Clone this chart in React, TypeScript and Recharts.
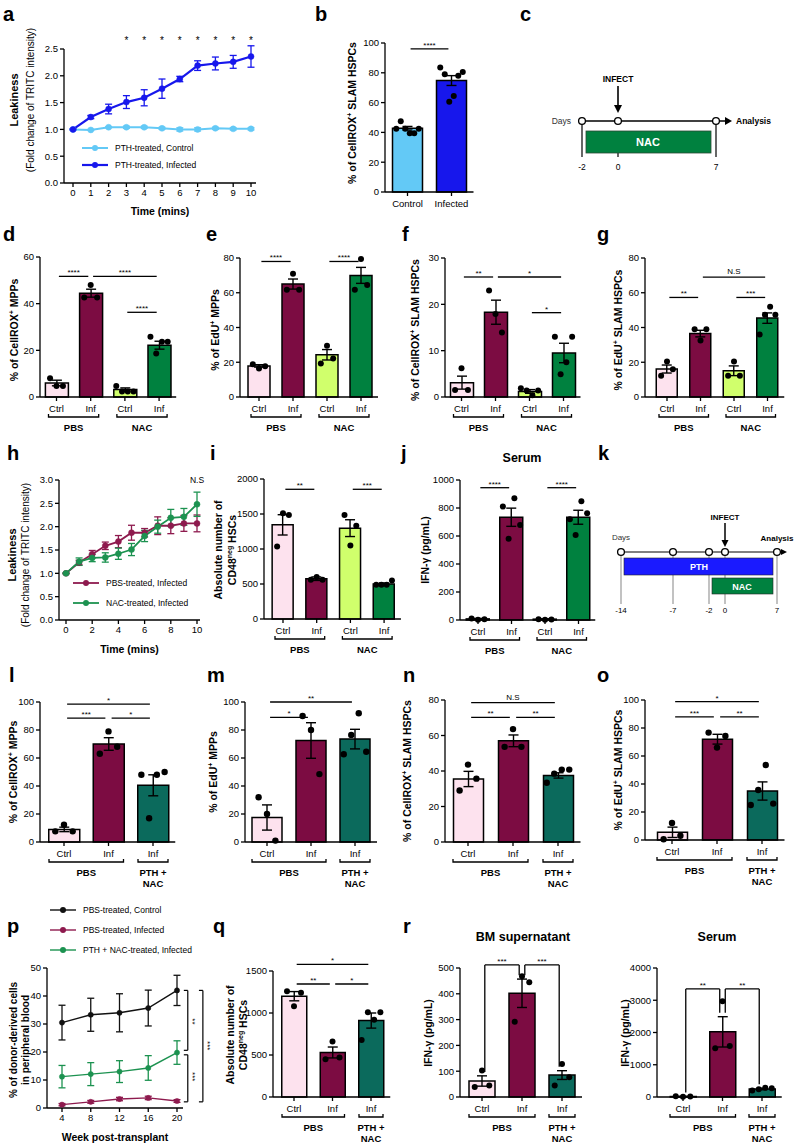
import React from 'react';
import {
  ComposedChart, Bar, Cell, ErrorBar, Scatter, Line, XAxis, YAxis,
  ReferenceLine, ReferenceDot, Legend,
} from 'recharts';

const FONT = 'Arial, "Liberation Sans", Helvetica, sans-serif';
const PINK = '#fde2ee';
const MAROON = '#7c0c42';
const LIME = '#d0ff6c';
const GREEN = '#00813f';
const TEAL = '#0b6a5c';
const SKY = '#63c9f6';
const BLUE = '#1717ec';
const PLUM = '#8e1a4e';
const LEAF = '#1c9250';
const AX = { stroke: '#000', strokeWidth: 1.3 };

// ---------- a : leakiness, PTH treated
const A_TIME = [0, 1, 2, 3, 4, 5, 6, 7, 8, 9, 10];
const A_CTRL = [1.0, 0.99, 1.04, 1.04, 1.04, 1.02, 1.0, 1.0, 1.02, 1.01, 1.01];
const A_CTRL_SEM = [0.01, 0.01, 0.01, 0.02, 0.02, 0.02, 0.03, 0.03, 0.02, 0.02, 0.02];
const A_INF = [1.0, 1.23, 1.38, 1.51, 1.59, 1.76, 1.94, 2.19, 2.23, 2.26, 2.36];
const A_INF_SEM = [0.01, 0.03, 0.09, 0.12, 0.15, 0.18, 0.05, 0.09, 0.12, 0.12, 0.2];
const A_STARS = [3, 4, 5, 6, 7, 8, 9, 10];

// ---------- b
const B_CATS = ['Control', 'Infected'];
const B_MEAN = [42.8, 74.8];
const B_SEM = [1.2, 3.3];
const B_DOTS = [[42.5, 47.5, 42.5, 39.5, 39.5, 42.5], [83.5, 79, 60.5, 64.5, 78, 80.5]];
const B_SIG = [{ a: 0, b: 1, y: 96, t: '****' }];

// ---------- shared categories
const CAT4 = ['Ctrl', 'Inf', 'Ctrl', 'Inf'];
const CAT3 = ['Ctrl', 'Inf', 'Inf'];
const GRP_NAC = [{ from: 0, to: 1, label: ['PBS'] }, { from: 2, to: 3, label: ['NAC'] }];
const GRP_PTH = [{ from: 0, to: 1, label: ['PBS'] }, { from: 2, to: 2, label: ['PTH +', 'NAC'] }];

// ---------- d
const D_MEAN = [6, 44.5, 3.2, 22.2];
const D_SEM = [1.2, 1.7, 0.7, 1.7];
const D_DOTS = [[8, 4.7, 4.7], [42.6, 48, 42.6], [4.7, 2.4, 2.4, 2.4], [25.8, 18.6, 23.7, 23.7]];
const D_SIG = [{ a: 0, b: 1, y: 51.7, t: '****' }, { a: 1, b: 3, y: 51.7, t: '****' }, { a: 2, b: 3, y: 36.3, t: '****' }];

// ---------- e
const E_MEAN = [17.9, 65, 24.3, 70];
const E_SEM = [0.7, 2.9, 3, 4.6];
const E_DOTS = [[18.9, 16.4, 17.7], [61.7, 70.9, 61.7], [19.3, 29.5, 22.2], [61.7, 79.4, 64.5]];
const E_SIG = [{ a: 0, b: 1, y: 78, t: '****' }, { a: 2, b: 3, y: 78, t: '****' }];

// ---------- f
const F_MEAN = [3.1, 18.3, 1.2, 9.5];
const F_SEM = [1.4, 2.6, 0.4, 2.1];
const F_DOTS = [[1.5, 6.2, 1.5], [23, 17.9, 13.9], [1.9, 1.4, 0.4, 1.4], [13, 4.9, 7.5, 13]];
const F_SIG = [{ a: 0, b: 1, y: 25.9, t: '**' }, { a: 1, b: 3, y: 25.9, t: '*' }, { a: 2, b: 3, y: 18.2, t: '*' }];

// ---------- g
const G_MEAN = [16.1, 36.5, 15.1, 45.4];
const G_SEM = [2.3, 1.9, 2.8, 3];
const G_DOTS = [[12.3, 20.5, 16], [39, 32.5, 39], [12.3, 20.4, 12.3], [36, 47.3, 52, 47.3]];
const G_SIG = [{ a: 0, b: 1, y: 57.3, t: '**' }, { a: 1, b: 3, y: 69, t: 'N.S' }, { a: 2, b: 3, y: 57.3, t: '***' }];

// ---------- h
const H_TIME = [0, 1, 2, 3, 4, 5, 6, 7, 8, 9, 10];
const H_PBS = [1.0, 1.23, 1.41, 1.59, 1.68, 1.87, 1.87, 2.02, 2.02, 2.07, 2.07];
const H_PBS_SEM = [0.01, 0.05, 0.08, 0.08, 0.13, 0.16, 0.09, 0.19, 0.17, 0.17, 0.18];
const H_NAC = [1.0, 1.25, 1.33, 1.34, 1.42, 1.51, 1.8, 2.0, 2.19, 2.21, 2.48];
const H_NAC_SEM = [0.01, 0.08, 0.08, 0.1, 0.12, 0.13, 0.12, 0.14, 0.18, 0.18, 0.26];

// ---------- i
const I_MEAN = [1345, 576, 1298, 500];
const I_SEM = [145, 25, 120, 15];
const I_DOTS = [[1036, 1511, 1487], [560, 600, 560], [1487, 1051, 1331], [490, 490, 490, 550]];
const I_SIG = [{ a: 0, b: 1, y: 1853, t: '**' }, { a: 2, b: 3, y: 1853, t: '***' }];

// ---------- j
const J_MEAN = [8, 734, 6, 734];
const J_SEM = [3, 65, 2, 50];
const J_DOTS = [[10, 2, 5], [810, 580, 869, 679], [6, 1, 4], [720, 608, 848, 762]];
const J_SIG = [{ a: 0, b: 1, y: 945, t: '****' }, { a: 2, b: 3, y: 945, t: '****' }];

// ---------- l
const L_MEAN = [9, 70, 40.5];
const L_SEM = [1.6, 4.5, 7.5];
const L_DOTS = [[7.6, 12.4, 7.6], [63, 79, 68], [48, 17, 48, 50]];
const L_SIG = [{ a: 0, b: 2, y: 98.5, t: '*' }, { a: 0, b: 1, y: 88.5, t: '***' }, { a: 1, b: 2, y: 88.5, t: '*' }];

// ---------- m
const M_MEAN = [17.5, 72.5, 73.5];
const M_SEM = [9, 12.7, 7];
const M_DOTS = [[32, 20, 1], [90, 80, 48.5], [62.7, 76.5, 92, 64.5]];
const M_SIG = [{ a: 0, b: 2, y: 100, t: '**' }, { a: 0, b: 1, y: 89, t: '*' }];

// ---------- n
const N_MEAN = [35.5, 57, 37.5];
const N_SEM = [4.3, 3.3, 1.5];
const N_DOTS = [[29, 43.6, 35.7], [53.6, 63.6, 53.6], [33.4, 38.5, 40.8, 40.8]];
const N_SIG = [{ a: 0, b: 2, y: 78.5, t: 'N.S' }, { a: 0, b: 1, y: 70.2, t: '**' }, { a: 1, b: 2, y: 70.2, t: '**' }];

// ---------- o
const O_MEAN = [5.5, 72, 35];
const O_SEM = [3.7, 3.5, 6.5];
const O_DOTS = [[0.5, 12.2, 3], [76.7, 66, 74.3], [25, 35.7, 53.6, 26]];
const O_SIG = [{ a: 0, b: 2, y: 98.8, t: '*' }, { a: 0, b: 1, y: 88, t: '***' }, { a: 1, b: 2, y: 88, t: '**' }];

// ---------- p
const P_WEEK = [4, 8, 12, 16, 20];
const P_CTRL = [30.5, 33.3, 34, 35.7, 42];
const P_CTRL_SEM = [6.2, 5.9, 6.8, 6.4, 5.4];
const P_PBS = [1.2, 2.2, 3.2, 3.6, 2.5];
const P_PBS_SEM = [0.4, 0.5, 0.6, 0.6, 0.5];
const P_NAC = [11.2, 12.1, 13, 14.3, 19.8];
const P_NAC_SEM = [4, 4.1, 3.9, 4.4, 4.2];

// ---------- q
const Q_MEAN = [1200, 530, 910];
const Q_SEM = [55, 65, 90];
const Q_DOTS = [[1260, 1080, 1240], [450, 660, 470], [680, 1010, 920, 1010]];
const Q_SIG = [{ a: 0, b: 2, y: 1580, t: '*' }, { a: 0, b: 1, y: 1345, t: '**' }, { a: 1, b: 2, y: 1345, t: '*' }];

// ---------- r
const BM_MEAN = [62, 402, 85];
const BM_SEM = [20, 55, 17];
const BM_DOTS = [[39, 103, 45], [292, 468, 445], [45, 128, 77]];
const BM_SIG = [{ a: 0, b: 1, y: 512, t: '***' }, { a: 1, b: 2, y: 512, t: '***' }];
const SE_MEAN = [15, 2020, 250];
const SE_SEM = [5, 470, 25];
const SE_DOTS = [[20, 8, 15], [1510, 2970, 1580], [200, 240, 290, 270]];
const SE_SIG = [{ a: 0, b: 1, y: 3350, t: '**' }, { a: 1, b: 2, y: 3350, t: '**' }];

// ---------- text helpers
function Rich({ s }: { s: string }) {
  const parts = s.split(/\^\{([^}]*)\}/);
  return (
    <>
      {parts.map((p, i) =>
        i % 2 === 1 ? (
          <tspan key={i} dy={-3.5} fontSize={7}>{p}</tspan>
        ) : (
          <tspan key={i} dy={i > 0 ? 3.5 : undefined}>{p}</tspan>
        ),
      )}
    </>
  );
}

type TLine = { s: string; dx: number; bold?: boolean; size?: number };

function VTitle({ x, y, lines }: { x: number; y: number; lines: TLine[] }) {
  return (
    <>
      {lines.map((l, i) => {
        const fs = l.size ?? 10.5;
        return (
          <text
            key={i}
            transform={`translate(${x + l.dx + fs * 0.35},${y}) rotate(-90)`}
            textAnchor="middle"
            fontSize={fs}
            fontWeight={l.bold === false ? 'normal' : 'bold'}
            fill="#000"
          >
            <Rich s={l.s} />
          </text>
        );
      })}
    </>
  );
}

// ---------- bar panel
const PADL = 62, PADR = 16, PADT = 34, PADB = 58, YW = 34;

function BarPanel({ geo, cats, colors, mean, sem, dots, yMax, yTicks, groups = [], sigs = [], bracket = false, title, dotR = 3 }: any) {
  const n = cats.length;
  const x1 = geo.c0 + (n - 1) * geo.sp + geo.sp * 0.5;
  const domain = [(geo.x0 - geo.c0) / geo.sp, (x1 - geo.c0) / geo.sp];
  const plotH = geo.yBot - geo.yTop;
  const width = x1 - geo.x0 + PADL + PADR;
  const height = plotH + PADT + PADB;
  const axisY = PADT + plotH;
  const rows = mean.map((m: number, i: number) => ({ x: i, mean: m, sem: sem[i] }));
  const pts = dots.flatMap((g: number[], i: number) => g.map((v, k) => ({ x: i, y: v, k, n: g.length })));
  const ticks = cats.map((_: string, i: number) => i);

  const tick = (tp: any) => {
    const i = Math.round(tp.payload.value);
    const cx = tp.x;
    return (
      <g>
        <text x={cx} y={axisY + 15} textAnchor="middle" fontSize={9.5} fill="#000">{cats[i]}</text>
        {groups.filter((g: any) => g.from === i).map((g: any, gi: number) => {
          const l = cx - geo.ext;
          const r = cx + (g.to - g.from) * geo.sp + geo.ext;
          const by = axisY + 20;
          return (
            <g key={gi}>
              <path d={`M${l},${by - 3}V${by}H${r}V${by - 3}`} fill="none" stroke="#000" strokeWidth={1.3} />
              {g.label.map((s: string, li: number) => (
                <text key={li} x={(l + r) / 2} y={axisY + 34 + li * 11} textAnchor="middle" fontSize={9.5} fontWeight="bold" fill="#000">{s}</text>
              ))}
            </g>
          );
        })}
      </g>
    );
  };

  const dotShape = (sp: any) => {
    const pl = sp.payload ?? sp;
    const step = Math.min(geo.barW * 0.28, (geo.barW * 0.75) / Math.max(1, pl.n - 1));
    const off = (pl.k - (pl.n - 1) / 2) * step;
    return <circle cx={sp.cx + off} cy={sp.cy} r={dotR} fill="#000" />;
  };

  const sigEls: any[] = [];
  sigs.forEach((s: any, i: number) => {
    const xa = s.a + 0.07;
    const xb = s.b - 0.07;
    const lab = { value: s.t, position: 'top', offset: s.t === 'N.S' ? 3 : 1, fontSize: 8, fill: '#000' };
    if (bracket) {
      const dropA = mean[s.a] + sem[s.a] + yMax * 0.03;
      const dropB = mean[s.b] + sem[s.b] + yMax * 0.03;
      sigEls.push(<ReferenceLine key={`a${i}`} segment={[{ x: xa, y: dropA }, { x: xa, y: s.y }]} stroke="#000" strokeWidth={1.3} ifOverflow="visible" />);
      sigEls.push(<ReferenceLine key={`b${i}`} segment={[{ x: xb, y: dropB }, { x: xb, y: s.y }]} stroke="#000" strokeWidth={1.3} ifOverflow="visible" />);
    }
    sigEls.push(<ReferenceLine key={`h${i}`} segment={[{ x: xa, y: s.y }, { x: xb, y: s.y }]} stroke="#000" strokeWidth={1.3} ifOverflow="visible" label={lab} />);
  });

  return (
    <div style={{ position: 'absolute', left: geo.x0 - PADL, top: geo.yTop - PADT, width, height }}>
      <ComposedChart width={width} height={height} data={rows} margin={{ top: PADT, right: PADR, bottom: 0, left: PADL - YW }}>
        <XAxis type="number" dataKey="x" domain={domain} ticks={ticks} interval={0} height={PADB} tickSize={4} tick={tick} axisLine={AX} tickLine={AX} />
        <YAxis type="number" domain={[0, yMax]} ticks={yTicks} interval={0} width={YW} tickSize={4} tick={{ fontSize: 9.5, fill: '#000' }} axisLine={AX} tickLine={AX} />
        <Bar dataKey="mean" barSize={geo.barW} stroke="#000" strokeWidth={1.5} isAnimationActive={false}>
          {rows.map((_: any, i: number) => <Cell key={i} fill={colors[i]} />)}
          <ErrorBar dataKey="sem" width={5} stroke="#000" strokeWidth={1.4} direction="y" />
        </Bar>
        <Scatter data={pts} dataKey="y" isAnimationActive={false} shape={dotShape} />
        {sigEls}
      </ComposedChart>
      <svg width={1} height={1} style={{ position: 'absolute', left: 0, top: 0, overflow: 'visible' }}>
        <VTitle x={PADL} y={PADT + (title.cy - geo.yTop)} lines={title.lines} />
      </svg>
    </div>
  );
}

// ---------- line panel
const LPAD = 36, RPAD = 44;

function LegendBox({ items, gap }: any) {
  return (
    <div style={{ fontFamily: FONT, fontSize: 8.5, color: '#000' }}>
      {items.map((it: any) => (
        <div key={it.name} style={{ display: 'flex', alignItems: 'center', height: gap }}>
          <svg width={26} height={8}>
            <line x1={0} y1={4} x2={26} y2={4} stroke={it.color} strokeWidth={it.w} />
            <circle cx={13} cy={4} r={3} fill={it.color} />
          </svg>
          <span style={{ marginLeft: 7, whiteSpace: 'nowrap' }}>{it.name}</span>
        </div>
      ))}
    </div>
  );
}

function LinePanel({ geo, rows, series, yMax, yTicks, xTicks, fmt, xTitle, title, legend, children }: any) {
  const plotH = geo.yBot - geo.yTop;
  const axisH = geo.titleY - geo.yBot;
  const left = geo.x0 - LPAD;
  const top = geo.yTop - geo.padT;
  const width = geo.x1 - geo.x0 + LPAD + RPAD;
  const height = geo.padT + plotH + axisH;
  return (
    <div style={{ position: 'absolute', left, top, width, height }}>
      <ComposedChart width={width} height={height} data={rows} margin={{ top: geo.padT, right: RPAD, bottom: 0, left: LPAD - 32 }}>
        <XAxis
          type="number" dataKey="t" domain={[xTicks[0], xTicks[xTicks.length - 1]]} ticks={xTicks} interval={0}
          padding={{ left: geo.padL, right: geo.padR }} height={axisH} tickSize={4}
          tick={{ fontSize: 9.5, fill: '#000' }} axisLine={AX} tickLine={AX}
          label={{ value: xTitle, position: 'insideBottom', offset: 0, fontSize: 10.5, fontWeight: 'bold', fill: '#000' }}
        />
        <YAxis type="number" domain={[0, yMax]} allowDataOverflow ticks={yTicks} interval={0} width={32} tickSize={4}
          tickFormatter={fmt} tick={{ fontSize: 9.5, fill: '#000' }} axisLine={AX} tickLine={AX} />
        {series.map((s: any) => (
          <Line key={s.key} type="linear" dataKey={s.key} stroke={s.color} strokeWidth={s.w}
            dot={{ r: s.r, fill: s.color, stroke: s.color, strokeWidth: 0.5 }} activeDot={false} isAnimationActive={false}>
            <ErrorBar dataKey={s.err} width={3.5} stroke={s.color} strokeWidth={1.3} direction="y" />
          </Line>
        ))}
        <Legend
          layout="vertical" align="center" verticalAlign="middle"
          wrapperStyle={{ left: legend.x - left, top: legend.y - top - legend.gap / 2, width: 'auto', height: 'auto' }}
          content={() => <LegendBox items={series} gap={legend.gap} />}
        />
        {children}
      </ComposedChart>
      <svg width={1} height={1} style={{ position: 'absolute', left: 0, top: 0, overflow: 'visible' }}>
        <VTitle x={LPAD} y={geo.padT + (title.cy - geo.yTop)} lines={title.lines} />
      </svg>
    </div>
  );
}

const textMark = (label: string, dy: number, size: number, rot = 0) => (p: any) => (
  <text
    x={p.cx} y={p.cy + dy} textAnchor="middle" fontSize={size} fill="#000"
    transform={rot ? `rotate(${rot} ${p.cx} ${p.cy})` : undefined}
  >{label}</text>
);

// ---------- schematics and panel letters
function Overlay() {
  const letters: [string, number, number][] = [
    ['a', 3, 21], ['b', 315, 21], ['c', 520, 21],
    ['d', 3, 241], ['e', 206, 241], ['f', 402, 241], ['g', 597, 241],
    ['h', 7, 460], ['i', 210, 460], ['j', 401, 460], ['k', 598, 460],
    ['l', 9, 682], ['m', 207, 682], ['n', 403, 682], ['o', 597, 682],
    ['p', 7, 933], ['q', 213, 933], ['r', 403, 933],
  ];
  const circ = (x: number, y: number, k: string) => <circle key={k} cx={x} cy={y} r={3.4} fill="#fff" stroke="#000" strokeWidth={1.3} />;
  return (
    <svg width={800} height={1148} style={{ position: 'absolute', left: 0, top: 0 }} fontFamily={FONT}>
      {letters.map(([t, x, y]) => (
        <text key={t} x={x} y={y} fontSize={20} fontWeight="bold" fill="#000">{t}</text>
      ))}
      <text x={522} y={462} textAnchor="middle" fontSize={12.5} fontWeight="bold">Serum</text>
      <text x={523} y={941} textAnchor="middle" fontSize={12.5} fontWeight="bold">BM supernatant</text>
      <text x={717} y={941} textAnchor="middle" fontSize={12.5} fontWeight="bold">Serum</text>

      {/* c */}
      <text x={618} y={82} textAnchor="middle" fontSize={8.5} fontWeight="bold">INFECT</text>
      <line x1={618} y1={86} x2={618} y2={106} stroke="#000" strokeWidth={1.6} />
      <path d="M614,105 L622,105 L618,113 Z" fill="#000" />
      <line x1={582} y1={121} x2={582} y2={157} stroke="#000" strokeWidth={1.2} />
      <line x1={716} y1={121} x2={716} y2={157} stroke="#000" strokeWidth={1.2} />
      <line x1={618} y1={150} x2={618} y2={157} stroke="#000" strokeWidth={1.2} />
      <rect x={586} y={131} width={125} height={22} fill={GREEN} stroke="#2c4a36" strokeWidth={0.8} />
      <text x={648} y={146} textAnchor="middle" fontSize={11} fontWeight="bold" fill="#fff">NAC</text>
      <line x1={582} y1={121} x2={726} y2={121} stroke="#000" strokeWidth={1.3} />
      <path d="M725,117 L732,121 L725,125 Z" fill="#000" />
      {circ(582, 121, 'c1')}{circ(618, 121, 'c2')}{circ(716, 121, 'c3')}
      <text x={571} y={124} textAnchor="end" fontSize={8.5} fill="#333">Days</text>
      <text x={736} y={124} fontSize={8.5} fontWeight="bold">Analysis</text>
      <text x={582} y={170} textAnchor="middle" fontSize={8.5}>-2</text>
      <text x={618} y={170} textAnchor="middle" fontSize={8.5}>0</text>
      <text x={716} y={170} textAnchor="middle" fontSize={8.5}>7</text>

      {/* k */}
      {[621, 673, 709, 725, 777].map((x) => (
        <line key={`kv${x}`} x1={x} y1={552} x2={x} y2={604} stroke="#999" strokeWidth={1.2} />
      ))}
      <rect x={624} y={558} width={149} height={17} fill="#1a1aff" stroke="#222" strokeWidth={0.6} />
      <text x={699} y={570} textAnchor="middle" fontSize={9} fontWeight="bold" fill="#fff">PTH</text>
      <rect x={712} y={578} width={61} height={16} fill={GREEN} stroke="#222" strokeWidth={0.6} />
      <text x={742} y={589.5} textAnchor="middle" fontSize={9} fontWeight="bold" fill="#fff">NAC</text>
      <line x1={621} y1={552} x2={782} y2={552} stroke="#000" strokeWidth={1.2} />
      <path d="M781,549 L787,552 L781,555 Z" fill="#000" />
      <text x={725} y={520} textAnchor="middle" fontSize={8} fontWeight="bold">INFECT</text>
      <line x1={725} y1={523} x2={725} y2={541} stroke="#000" strokeWidth={1.5} />
      <path d="M721.5,540 L728.5,540 L725,547 Z" fill="#000" />
      {[621, 673, 709, 725, 777].map((x) => circ(x, 552, `kc${x}`))}
      <text x={621} y={540} textAnchor="middle" fontSize={8} fill="#333">Days</text>
      <text x={777} y={541} textAnchor="middle" fontSize={8} fontWeight="bold">Analysis</text>
      {[[621, '-14'], [673, '-7'], [709, '-2'], [725, '0'], [777, '7']].map(([x, t]) => (
        <text key={`kt${x}`} x={x as number} y={613} textAnchor="middle" fontSize={8}>{t}</text>
      ))}
    </svg>
  );
}

// ---------- titles
const T_CROX_SLAM = '% of CellROX^{+} SLAM HSPCs';
const T_CROX_MPP = '% of CellROX^{+} MPPs';
const T_EDU_MPP = '% of EdU^{+} MPPs';
const T_EDU_SLAM = '% of EdU^{+} SLAM HSPCs';
const T_IFN = 'IFN-γ (pg/mL)';

export default function App() {
  const aRows = A_TIME.map((t, i) => ({ t, ctrl: A_CTRL[i], ctrlE: A_CTRL_SEM[i], inf: A_INF[i], infE: A_INF_SEM[i] }));
  const hRows = H_TIME.map((t, i) => ({ t, pbs: H_PBS[i], pbsE: H_PBS_SEM[i], nac: H_NAC[i], nacE: H_NAC_SEM[i] }));
  const pRows = P_WEEK.map((t, i) => ({ t, ctrl: P_CTRL[i], ctrlE: P_CTRL_SEM[i], pbs: P_PBS[i], pbsE: P_PBS_SEM[i], nac: P_NAC[i], nacE: P_NAC_SEM[i] }));
  const last = P_WEEK.length - 1;
  const pTop = P_CTRL[last], pMid = P_NAC[last], pLow = P_PBS[last];
  const br = (x: number, y1: number, y2: number, k: string) => [
    <ReferenceLine key={`${k}v`} segment={[{ x, y: y1 }, { x, y: y2 }]} stroke="#000" strokeWidth={1.2} ifOverflow="visible" />,
    <ReferenceLine key={`${k}t`} segment={[{ x: x - 0.55, y: y1 }, { x, y: y1 }]} stroke="#000" strokeWidth={1.2} ifOverflow="visible" />,
    <ReferenceLine key={`${k}b`} segment={[{ x: x - 0.55, y: y2 }, { x, y: y2 }]} stroke="#000" strokeWidth={1.2} ifOverflow="visible" />,
  ];

  return (
    <div style={{ position: 'absolute', left: 0, top: 0, width: 800, height: 1148, background: '#fff', fontFamily: FONT }}>
      <style>{'.recharts-surface{overflow:visible}'}</style>
      <Overlay />

      {/* a */}
      <LinePanel
        geo={{ x0: 64, x1: 256, yTop: 49, yBot: 183, padL: 9, padR: 5, titleY: 215, padT: 24 }}
        rows={aRows} yMax={2.5} yTicks={[0, 0.5, 1, 1.5, 2, 2.5]} xTicks={A_TIME} fmt={(v: number) => v.toFixed(1)}
        xTitle="Time (mins)"
        series={[
          { key: 'ctrl', err: 'ctrlE', color: SKY, w: 2, r: 3, name: 'PTH-treated, Control' },
          { key: 'inf', err: 'infE', color: BLUE, w: 2.2, r: 3, name: 'PTH-treated, Infected' },
        ]}
        legend={{ x: 82, y: 148, gap: 17 }}
        title={{ cy: 100, lines: [{ s: 'Leakiness', dx: -50, size: 11 }, { s: '(Fold change of TRITC intensity)', dx: -34, bold: false, size: 10 }] }}
      >
        {A_STARS.map((t) => (
          <ReferenceDot key={`s${t}`} x={t} y={2.5} ifOverflow="visible" shape={textMark('*', -5, 10)} />
        ))}
      </LinePanel>

      {/* b */}
      <BarPanel geo={{ x0: 385, c0: 407.5, sp: 44, yTop: 43, yBot: 192, barW: 30, ext: 0 }}
        cats={B_CATS} colors={[SKY, BLUE]} mean={B_MEAN} sem={B_SEM} dots={B_DOTS} yMax={100} yTicks={[0, 20, 40, 60, 80, 100]}
        sigs={B_SIG} title={{ cy: 113, lines: [{ s: T_CROX_SLAM, dx: -33 }] }} />

      {/* d e f g */}
      <BarPanel geo={{ x0: 40, c0: 56.5, sp: 34.2, yTop: 257, yBot: 397, barW: 23, ext: 8 }}
        cats={CAT4} colors={[PINK, MAROON, LIME, GREEN]} mean={D_MEAN} sem={D_SEM} dots={D_DOTS} yMax={60} yTicks={[0, 20, 40, 60]}
        groups={GRP_NAC} sigs={D_SIG} title={{ cy: 330, lines: [{ s: T_CROX_MPP, dx: -26 }] }} />
      <BarPanel geo={{ x0: 240, c0: 259, sp: 34, yTop: 258, yBot: 397, barW: 22, ext: 8 }}
        cats={CAT4} colors={[PINK, MAROON, LIME, GREEN]} mean={E_MEAN} sem={E_SEM} dots={E_DOTS} yMax={80} yTicks={[0, 20, 40, 60, 80]}
        groups={GRP_NAC} sigs={E_SIG} title={{ cy: 330, lines: [{ s: T_EDU_MPP, dx: -25 }] }} />
      <BarPanel geo={{ x0: 445, c0: 461.5, sp: 34, yTop: 258, yBot: 397, barW: 23, ext: 8 }}
        cats={CAT4} colors={[PINK, MAROON, LIME, GREEN]} mean={F_MEAN} sem={F_SEM} dots={F_DOTS} yMax={30} yTicks={[0, 10, 20, 30]}
        groups={GRP_NAC} sigs={F_SIG} title={{ cy: 330, lines: [{ s: T_CROX_SLAM, dx: -30 }] }} />
      <BarPanel geo={{ x0: 645, c0: 667, sp: 33.5, yTop: 258, yBot: 397, barW: 21, ext: 8 }}
        cats={CAT4} colors={[PINK, MAROON, LIME, GREEN]} mean={G_MEAN} sem={G_SEM} dots={G_DOTS} yMax={80} yTicks={[0, 20, 40, 60, 80]}
        groups={GRP_NAC} sigs={G_SIG} title={{ cy: 330, lines: [{ s: T_EDU_SLAM, dx: -27 }] }} />

      {/* h */}
      <LinePanel
        geo={{ x0: 59, x1: 200, yTop: 480, yBot: 620, padL: 7, padR: 3, titleY: 653, padT: 22 }}
        rows={hRows} yMax={3} yTicks={[0, 0.5, 1, 1.5, 2, 2.5, 3]} xTicks={[0, 2, 4, 6, 8, 10]} fmt={(v: number) => v.toFixed(1)}
        xTitle="Time (mins)"
        series={[
          { key: 'pbs', err: 'pbsE', color: PLUM, w: 1.8, r: 3, name: 'PBS-treated, Infected' },
          { key: 'nac', err: 'nacE', color: LEAF, w: 1.8, r: 3, name: 'NAC-treated, Infected' },
        ]}
        legend={{ x: 73, y: 583, gap: 20 }}
        title={{ cy: 555, lines: [{ s: 'Leakiness', dx: -47, size: 11 }, { s: '(Fold change of TRITC intensity)', dx: -34, bold: false, size: 10 }] }}
      >
        <ReferenceDot x={10} y={3} ifOverflow="visible" shape={textMark('N.S', 3, 8.5)} />
      </LinePanel>

      {/* i j */}
      <BarPanel geo={{ x0: 264, c0: 283, sp: 33.7, yTop: 479, yBot: 619, barW: 21, ext: 8 }}
        cats={CAT4} colors={[PINK, MAROON, LIME, GREEN]} mean={I_MEAN} sem={I_SEM} dots={I_DOTS} yMax={2000} yTicks={[0, 500, 1000, 1500, 2000]}
        groups={GRP_NAC} sigs={I_SIG}
        title={{ cy: 550, lines: [{ s: 'Absolute number of', dx: -46 }, { s: 'CD48^{neg} HSCs', dx: -32 }] }} />
      <BarPanel geo={{ x0: 460, c0: 478, sp: 33.5, yTop: 480, yBot: 620, barW: 23, ext: 8 }}
        cats={CAT4} colors={[PINK, MAROON, LIME, GREEN]} mean={J_MEAN} sem={J_SEM} dots={J_DOTS} yMax={1000} yTicks={[0, 200, 400, 600, 800, 1000]}
        groups={GRP_NAC} sigs={J_SIG} title={{ cy: 550, lines: [{ s: T_IFN, dx: -35 }] }} />

      {/* l m n o */}
      <BarPanel geo={{ x0: 40, c0: 64, sp: 44.5, yTop: 702, yBot: 842, barW: 31, ext: 15 }}
        cats={CAT3} colors={[PINK, MAROON, TEAL]} mean={L_MEAN} sem={L_SEM} dots={L_DOTS} yMax={100} yTicks={[0, 20, 40, 60, 80, 100]}
        groups={GRP_PTH} sigs={L_SIG} dotR={3.2} title={{ cy: 772, lines: [{ s: T_CROX_MPP, dx: -27 }] }} />
      <BarPanel geo={{ x0: 245, c0: 267, sp: 44, yTop: 702, yBot: 842, barW: 30, ext: 15 }}
        cats={CAT3} colors={[PINK, MAROON, TEAL]} mean={M_MEAN} sem={M_SEM} dots={M_DOTS} yMax={100} yTicks={[0, 20, 40, 60, 80, 100]}
        groups={GRP_PTH} sigs={M_SIG} dotR={3.2} title={{ cy: 772, lines: [{ s: T_EDU_MPP, dx: -32 }] }} />
      <BarPanel geo={{ x0: 445, c0: 468, sp: 45, yTop: 700, yBot: 842, barW: 30, ext: 15 }}
        cats={CAT3} colors={[PINK, MAROON, TEAL]} mean={N_MEAN} sem={N_SEM} dots={N_DOTS} yMax={80} yTicks={[0, 20, 40, 60, 80]}
        groups={GRP_PTH} sigs={N_SIG} dotR={3.2} title={{ cy: 771, lines: [{ s: T_CROX_SLAM, dx: -38 }] }} />
      <BarPanel geo={{ x0: 645, c0: 672, sp: 45, yTop: 700, yBot: 840, barW: 30, ext: 15 }}
        cats={CAT3} colors={[PINK, MAROON, TEAL]} mean={O_MEAN} sem={O_SEM} dots={O_DOTS} yMax={100} yTicks={[0, 20, 40, 60, 80, 100]}
        groups={GRP_PTH} sigs={O_SIG} dotR={3.2} title={{ cy: 770, lines: [{ s: T_EDU_SLAM, dx: -27 }] }} />

      {/* p */}
      <LinePanel
        geo={{ x0: 47, x1: 183, yTop: 968, yBot: 1108, padL: 15, padR: 6, titleY: 1141, padT: 72 }}
        rows={pRows} yMax={50} yTicks={[0, 10, 20, 30, 40, 50]} xTicks={P_WEEK} fmt={(v: number) => String(v)}
        xTitle="Week post-transplant"
        series={[
          { key: 'ctrl', err: 'ctrlE', color: '#111', w: 1.4, r: 2.6, name: 'PBS-treated, Control' },
          { key: 'pbs', err: 'pbsE', color: PLUM, w: 1.4, r: 2.6, name: 'PBS-treated, Infected' },
          { key: 'nac', err: 'nacE', color: LEAF, w: 1.4, r: 2.6, name: 'PTH + NAC-treated, Infected' },
        ]}
        legend={{ x: 50, y: 910, gap: 20 }}
        title={{ cy: 1040, lines: [{ s: '% of donor-derived cells', dx: -34, size: 10 }, { s: 'in peripheral blood', dx: -22, size: 10 }] }}
      >
        {br(21.5, pTop, pMid + 0.8, 'b1')}
        {br(21.5, pMid - 0.8, pLow - 0.3, 'b2')}
        {br(23.6, pTop, pLow - 0.3, 'b3')}
        <ReferenceDot x={22.2} y={(pTop + pMid) / 2} ifOverflow="visible" shape={textMark('**', 3, 8, 90)} />
        <ReferenceDot x={22.2} y={(pMid + pLow) / 2} ifOverflow="visible" shape={textMark('***', 3, 8, 90)} />
        <ReferenceDot x={24.3} y={(pTop + pLow) / 2} ifOverflow="visible" shape={textMark('***', 3, 8, 90)} />
      </LinePanel>

      {/* q */}
      <BarPanel geo={{ x0: 273, c0: 294, sp: 38.5, yTop: 971, yBot: 1097, barW: 25, ext: 12 }}
        cats={CAT3} colors={[PINK, MAROON, TEAL]} mean={Q_MEAN} sem={Q_SEM} dots={Q_DOTS} yMax={1500} yTicks={[0, 500, 1000, 1500]}
        groups={GRP_PTH} sigs={Q_SIG} title={{ cy: 1035, lines: [{ s: 'Absolute number of', dx: -43 }, { s: 'CD48^{neg} HSCs', dx: -30 }] }} />

      {/* r */}
      <BarPanel geo={{ x0: 460, c0: 482, sp: 40, yTop: 968, yBot: 1097, barW: 26, ext: 13 }}
        cats={CAT3} colors={[PINK, MAROON, TEAL]} mean={BM_MEAN} sem={BM_SEM} dots={BM_DOTS} yMax={500} yTicks={[0, 100, 200, 300, 400, 500]}
        groups={GRP_PTH} sigs={BM_SIG} bracket title={{ cy: 1033, lines: [{ s: T_IFN, dx: -32 }] }} />
      <BarPanel geo={{ x0: 657, c0: 683, sp: 39.5, yTop: 968, yBot: 1097, barW: 26, ext: 13 }}
        cats={CAT3} colors={[PINK, MAROON, TEAL]} mean={SE_MEAN} sem={SE_SEM} dots={SE_DOTS} yMax={4000} yTicks={[0, 1000, 2000, 3000, 4000]}
        groups={GRP_PTH} sigs={SE_SIG} bracket title={{ cy: 1033, lines: [{ s: T_IFN, dx: -32 }] }} />
    </div>
  );
}
